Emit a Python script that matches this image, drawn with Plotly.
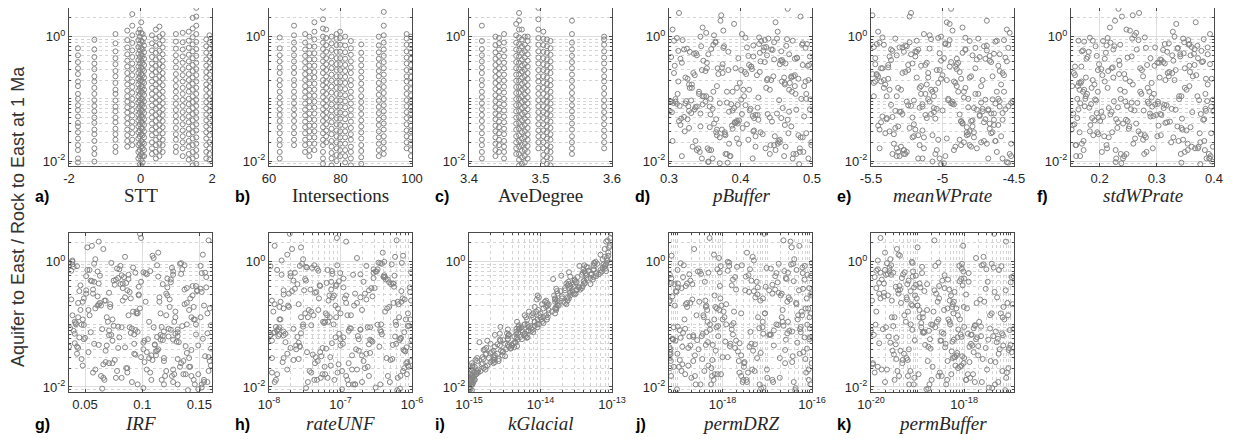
import plotly.graph_objects as go

# ---------------- shared output values (y of panels d-k) ----------------
ratio = [
    0.35, 0.021, 0.74, 0.056, 0.013, 1.3, 0.18, 0.042, 0.62, 0.095,
    0.027, 0.48, 0.011, 0.24, 0.083, 0.91, 0.033, 0.15, 0.067, 0.29,
    0.016, 0.55, 0.12, 0.038, 0.81, 0.0092, 0.21, 0.47, 0.071, 0.019,
    1.8, 0.064, 0.33, 0.026, 0.13, 0.68, 0.045, 0.099, 0.23, 0.014,
    0.41, 0.087, 0.017, 0.96, 0.052, 0.28, 0.031, 0.16, 0.59, 0.011,
    0.076, 0.37, 0.023, 0.11, 0.85, 0.048, 0.014, 0.26, 0.043, 1.1,
    0.19, 0.029, 0.64, 0.058, 0.012, 0.39, 0.091, 0.22, 0.035, 0.72,
    0.015, 0.14, 0.44, 0.069, 2.4, 0.025, 0.31, 0.105, 0.018, 0.53,
    0.062, 0.88, 0.037, 0.2, 0.0098, 0.46, 0.079, 0.13, 0.027, 0.66,
    0.34, 0.049, 0.017, 0.25, 0.78, 0.094, 0.04, 0.17, 1.4, 0.022,
    0.57, 0.013, 0.11, 0.3, 0.061, 0.93, 0.032, 0.2, 0.084, 0.015,
    0.27, 0.7, 0.046, 0.12, 0.019, 0.42, 0.073, 0.0089, 0.36, 0.055,
    1.05, 0.028, 0.15, 0.5, 0.039, 0.09, 0.24, 0.012, 0.61, 0.082,
    0.021, 0.32, 0.065, 0.86, 0.14, 0.044, 0.016, 0.4, 2.1, 0.1,
    0.051, 0.23, 0.026, 0.76, 0.068, 0.011, 0.18, 0.52, 0.034, 0.13,
    0.45, 0.077, 0.02, 0.29, 0.97, 0.058, 0.16, 0.024, 0.67, 0.086,
    0.013, 0.38, 0.11, 0.047, 0.22, 1.6, 0.03, 0.098, 0.54, 0.018,
    0.26, 0.072, 0.63, 0.036, 0.012, 0.19, 0.43, 0.057, 0.83, 0.024,
    0.14, 0.0094, 0.35, 0.081, 0.049, 0.71, 0.17, 0.029, 1.2, 0.063,
    0.31, 0.016, 0.092, 0.58, 0.041, 0.21, 0.015, 0.49, 0.075, 2.8,
    0.44, 0.019, 0.13, 0.86, 0.036, 0.25, 0.011, 0.068, 0.57, 0.15,
    0.028, 0.7, 0.09, 0.33, 0.014, 1.15, 0.05, 0.21, 0.042, 0.39,
    0.12, 0.024, 0.48, 0.075, 0.95, 0.017, 0.18, 0.6, 0.032, 0.1,
    0.27, 0.059, 1.7, 0.013, 0.16, 0.38, 0.046, 0.8, 0.022, 0.11,
    0.065, 0.52, 0.03, 0.2, 0.0096, 0.34, 0.085, 0.67, 0.016, 0.24,
    0.93, 0.04, 0.14, 0.021, 0.45, 0.071, 0.29, 0.012, 0.055, 1.25,
    0.17, 0.35, 0.026, 0.62, 0.097, 0.015, 0.23, 0.044, 0.76, 0.062,
    0.011, 0.41, 0.08, 0.19, 0.034, 0.88, 0.13, 0.02, 0.31, 0.053,
    0.74, 0.025, 0.1, 0.5, 0.018, 0.26, 0.069, 2.2, 0.038, 0.15,
    0.057, 0.22, 0.013, 0.66, 0.047, 0.36, 0.09, 0.029, 1.0, 0.12,
]

pBuffer = [
    0.412, 0.337, 0.486, 0.358, 0.441, 0.305, 0.469, 0.392, 0.321, 0.454,
    0.378, 0.497, 0.346, 0.423, 0.311, 0.465, 0.389, 0.332, 0.478, 0.401,
    0.354, 0.427, 0.492, 0.316, 0.447, 0.371, 0.438, 0.303, 0.459, 0.384,
    0.372, 0.328, 0.415, 0.481, 0.362, 0.436, 0.398, 0.309, 0.474, 0.343,
    0.456, 0.381, 0.333, 0.407, 0.489, 0.351, 0.419, 0.367, 0.313, 0.495,
    0.327, 0.463, 0.395, 0.349, 0.429, 0.317, 0.483, 0.375, 0.444, 0.402,
    0.491, 0.366, 0.325, 0.451, 0.386, 0.434, 0.302, 0.471, 0.357, 0.418,
    0.339, 0.404, 0.476, 0.361, 0.314, 0.448, 0.393, 0.425, 0.499, 0.335,
    0.468, 0.319, 0.388, 0.443, 0.355, 0.479, 0.407, 0.342, 0.431, 0.376,
    0.308, 0.457, 0.421, 0.369, 0.487, 0.331, 0.396, 0.462, 0.347, 0.411,
    0.383, 0.474, 0.352, 0.416, 0.304, 0.439, 0.367, 0.495, 0.323, 0.449,
    0.427, 0.345, 0.466, 0.312, 0.398, 0.458, 0.337, 0.482, 0.375, 0.421,
    0.363, 0.492, 0.329, 0.437, 0.409, 0.351, 0.476, 0.318, 0.445, 0.387,
    0.453, 0.374, 0.413, 0.307, 0.468, 0.395, 0.341, 0.428, 0.484, 0.358,
    0.321, 0.446, 0.379, 0.493, 0.336, 0.417, 0.462, 0.355, 0.403, 0.472,
    0.397, 0.315, 0.455, 0.383, 0.426, 0.344, 0.489, 0.371, 0.433, 0.306,
    0.478, 0.353, 0.405, 0.326, 0.461, 0.391, 0.418, 0.498, 0.338, 0.442,
    0.334, 0.424, 0.359, 0.471, 0.385, 0.313, 0.447, 0.402, 0.365, 0.487,
    0.441, 0.382, 0.496, 0.347, 0.419, 0.464, 0.328, 0.378, 0.452, 0.301,
    0.368, 0.435, 0.324, 0.457, 0.392, 0.481, 0.356, 0.411, 0.339, 0.466,
    0.316, 0.452, 0.389, 0.473, 0.344, 0.408, 0.361, 0.497, 0.329, 0.436,
    0.467, 0.377, 0.303, 0.415, 0.488, 0.352, 0.441, 0.326, 0.394, 0.459,
    0.342, 0.484, 0.418, 0.357, 0.311, 0.463, 0.399, 0.432, 0.374, 0.492,
    0.406, 0.331, 0.449, 0.381, 0.476, 0.318, 0.425, 0.365, 0.455, 0.347,
    0.389, 0.468, 0.322, 0.437, 0.355, 0.494, 0.371, 0.409, 0.483, 0.336,
    0.451, 0.363, 0.412, 0.305, 0.479, 0.391, 0.346, 0.461, 0.424, 0.376,
    0.332, 0.487, 0.367, 0.443, 0.401, 0.359, 0.471, 0.314, 0.426, 0.384,
    0.473, 0.348, 0.396, 0.458, 0.328, 0.434, 0.381, 0.499, 0.353, 0.417,
    0.362, 0.421, 0.485, 0.339, 0.447, 0.307, 0.414, 0.373, 0.462, 0.395,
    0.438, 0.323, 0.379, 0.491, 0.366, 0.455, 0.309, 0.428, 0.344, 0.477,
]

meanWPrate = [
    -5.12, -4.63, -5.41, -4.88, -5.27, -4.55, -5.03, -4.71, -5.36, -4.96,
    -4.82, -5.19, -4.58, -5.46, -4.93, -5.08, -4.67, -5.31, -4.76, -5.02,
    -5.44, -4.86, -5.15, -4.61, -5.23, -4.99, -5.38, -4.74, -5.06, -4.52,
    -4.69, -5.33, -4.91, -5.17, -4.57, -5.48, -4.79, -5.1, -4.65, -5.25,
    -5.01, -4.73, -5.29, -4.84, -5.42, -4.6, -5.14, -4.9, -5.35, -4.68,
    -4.54, -5.21, -4.97, -5.39, -4.81, -5.05, -4.62, -5.28, -4.87, -5.13,
    -5.47, -4.78, -5.09, -4.66, -5.32, -4.94, -4.51, -5.18, -4.83, -5.26,
    -4.92, -5.37, -4.7, -5.04, -5.22, -4.59, -5.43, -4.85, -5.16, -4.64,
    -5.3, -4.95, -5.45, -4.72, -5.07, -4.56, -5.24, -4.89, -5.34, -4.77,
    -4.61, -5.11, -4.8, -5.49, -4.98, -5.2, -4.67, -5.4, -4.86, -5.03,
    -5.18, -4.53, -5.32, -4.9, -5.06, -4.75, -5.44, -4.97, -4.63, -5.27,
    -4.88, -5.25, -4.58, -5.12, -4.69, -5.36, -4.82, -5.01, -5.47, -4.74,
    -5.09, -4.66, -5.41, -4.79, -5.2, -4.93, -4.57, -5.3, -4.84, -5.14,
    -4.71, -5.38, -5.0, -4.62, -5.29, -4.87, -5.13, -4.55, -5.23, -4.96,
    -5.35, -4.8, -5.07, -5.46, -4.68, -5.17, -4.91, -4.6, -5.33, -4.85,
    -4.99, -5.22, -4.73, -5.04, -5.42, -4.64, -5.15, -4.78, -5.28, -4.52,
    -5.26, -4.89, -5.48, -4.7, -5.1, -4.95, -5.37, -4.65, -5.02, -4.81,
    -4.58, -5.16, -4.84, -5.31, -4.98, -5.43, -4.76, -5.08, -4.63, -5.21,
    -5.05, -4.54, -5.24, -4.92, -5.39, -4.69, -5.11, -4.83, -5.45, -4.72,
    -4.77, -5.32, -4.6, -5.19, -4.86, -5.01, -5.27, -4.67, -5.14, -4.94,
    -4.9, -5.34, -4.62, -5.18, -4.79, -5.46, -5.02, -4.56, -5.27, -4.84,
    -5.4, -4.71, -5.09, -4.95, -5.31, -4.53, -5.21, -4.87, -5.43, -4.66,
    -4.75, -5.13, -5.37, -4.6, -5.03, -4.91, -5.48, -4.69, -5.19, -4.82,
    -5.26, -4.58, -4.97, -5.35, -4.73, -5.11, -4.64, -5.44, -4.88, -5.06,
    -4.68, -5.22, -4.81, -5.41, -4.55, -5.15, -4.94, -5.3, -4.76, -5.0,
    -5.33, -4.86, -5.08, -4.63, -5.47, -4.78, -5.24, -4.52, -5.12, -4.93,
    -4.59, -5.38, -4.83, -5.17, -4.7, -5.04, -5.45, -4.8, -4.98, -5.29,
    -5.14, -4.67, -5.36, -4.92, -5.23, -4.57, -5.07, -4.85, -5.42, -4.74,
    -4.96, -5.2, -4.61, -5.32, -4.87, -5.1, -4.72, -5.49, -4.64, -5.16,
    -5.28, -4.81, -5.05, -4.54, -5.39, -4.9, -5.25, -4.65, -5.01, -4.77,
]

stdWPrate = [
    0.283, 0.172, 0.356, 0.219, 0.391, 0.247, 0.164, 0.318, 0.265, 0.374,
    0.198, 0.341, 0.229, 0.157, 0.302, 0.382, 0.251, 0.186, 0.333, 0.274,
    0.367, 0.211, 0.295, 0.153, 0.348, 0.238, 0.396, 0.179, 0.312, 0.259,
    0.227, 0.386, 0.168, 0.307, 0.244, 0.361, 0.191, 0.339, 0.276, 0.204,
    0.329, 0.256, 0.398, 0.183, 0.289, 0.215, 0.352, 0.162, 0.378, 0.241,
    0.174, 0.314, 0.262, 0.371, 0.206, 0.344, 0.282, 0.155, 0.323, 0.393,
    0.253, 0.196, 0.336, 0.288, 0.166, 0.379, 0.225, 0.305, 0.359, 0.212,
    0.384, 0.236, 0.177, 0.326, 0.269, 0.208, 0.349, 0.291, 0.159, 0.365,
    0.221, 0.355, 0.303, 0.188, 0.397, 0.249, 0.317, 0.171, 0.272, 0.337,
    0.296, 0.161, 0.373, 0.234, 0.321, 0.194, 0.264, 0.389, 0.218, 0.346,
    0.181, 0.278, 0.343, 0.203, 0.362, 0.257, 0.151, 0.331, 0.286, 0.228,
    0.358, 0.193, 0.246, 0.385, 0.169, 0.308, 0.232, 0.376, 0.199, 0.299,
    0.261, 0.395, 0.214, 0.327, 0.156, 0.284, 0.369, 0.243, 0.311, 0.185,
    0.338, 0.223, 0.277, 0.163, 0.352, 0.201, 0.293, 0.381, 0.239, 0.175,
    0.206, 0.363, 0.189, 0.314, 0.255, 0.392, 0.167, 0.341, 0.231, 0.287,
    0.372, 0.248, 0.325, 0.197, 0.279, 0.154, 0.357, 0.216, 0.389, 0.266,
    0.237, 0.301, 0.176, 0.383, 0.224, 0.334, 0.268, 0.192, 0.347, 0.158,
    0.319, 0.182, 0.366, 0.252, 0.394, 0.209, 0.306, 0.377, 0.173, 0.281,
    0.165, 0.343, 0.235, 0.297, 0.187, 0.371, 0.258, 0.222, 0.328, 0.399,
    0.271, 0.213, 0.388, 0.169, 0.315, 0.245, 0.354, 0.195, 0.292, 0.233,
    0.209, 0.354, 0.271, 0.188, 0.336, 0.243, 0.392, 0.163, 0.318, 0.284,
    0.375, 0.226, 0.302, 0.157, 0.349, 0.264, 0.198, 0.386, 0.232, 0.311,
    0.178, 0.329, 0.256, 0.395, 0.214, 0.361, 0.291, 0.171, 0.345, 0.237,
    0.322, 0.195, 0.368, 0.247, 0.152, 0.304, 0.381, 0.219, 0.276, 0.339,
    0.261, 0.389, 0.183, 0.315, 0.228, 0.357, 0.166, 0.297, 0.372, 0.205,
    0.346, 0.241, 0.173, 0.383, 0.289, 0.216, 0.333, 0.159, 0.308, 0.253,
    0.191, 0.366, 0.279, 0.224, 0.398, 0.172, 0.321, 0.249, 0.357, 0.203,
    0.387, 0.234, 0.313, 0.168, 0.343, 0.268, 0.197, 0.376, 0.221, 0.294,
    0.236, 0.301, 0.161, 0.359, 0.212, 0.327, 0.385, 0.258, 0.184, 0.349,
    0.306, 0.176, 0.342, 0.281, 0.229, 0.393, 0.245, 0.165, 0.331, 0.273,
]

IRF = [
    0.087, 0.141, 0.052, 0.118, 0.067, 0.153, 0.098, 0.044, 0.127, 0.075,
    0.109, 0.058, 0.146, 0.083, 0.131, 0.039, 0.094, 0.157, 0.071, 0.122,
    0.136, 0.079, 0.048, 0.113, 0.092, 0.149, 0.062, 0.125, 0.041, 0.104,
    0.056, 0.123, 0.089, 0.159, 0.069, 0.101, 0.138, 0.047, 0.115, 0.082,
    0.144, 0.037, 0.107, 0.073, 0.132, 0.061, 0.155, 0.095, 0.051, 0.119,
    0.096, 0.151, 0.066, 0.128, 0.043, 0.111, 0.077, 0.142, 0.085, 0.059,
    0.072, 0.106, 0.134, 0.049, 0.091, 0.156, 0.117, 0.063, 0.139, 0.038,
    0.126, 0.054, 0.081, 0.147, 0.099, 0.068, 0.121, 0.042, 0.158, 0.088,
    0.045, 0.137, 0.112, 0.064, 0.152, 0.086, 0.04, 0.129, 0.076, 0.103,
    0.148, 0.093, 0.057, 0.124, 0.078, 0.135, 0.101, 0.053, 0.114, 0.16,
    0.084, 0.145, 0.07, 0.097, 0.05, 0.133, 0.108, 0.154, 0.065, 0.12,
    0.115, 0.061, 0.149, 0.074, 0.127, 0.046, 0.09, 0.14, 0.057, 0.102,
    0.039, 0.131, 0.095, 0.055, 0.143, 0.11, 0.068, 0.157, 0.082, 0.125,
    0.133, 0.071, 0.118, 0.151, 0.088, 0.043, 0.138, 0.097, 0.062, 0.147,
    0.101, 0.048, 0.136, 0.08, 0.116, 0.152, 0.059, 0.125, 0.093, 0.044,
    0.062, 0.119, 0.087, 0.144, 0.036, 0.105, 0.129, 0.074, 0.155, 0.091,
    0.154, 0.083, 0.041, 0.111, 0.139, 0.066, 0.099, 0.049, 0.122, 0.078,
    0.09, 0.157, 0.104, 0.053, 0.127, 0.145, 0.076, 0.116, 0.04, 0.134,
    0.121, 0.065, 0.148, 0.094, 0.058, 0.107, 0.046, 0.141, 0.085, 0.113,
    0.051, 0.128, 0.079, 0.114, 0.16, 0.072, 0.143, 0.056, 0.131, 0.098,
    0.118, 0.059, 0.143, 0.081, 0.104, 0.038, 0.131, 0.073, 0.156, 0.096,
    0.047, 0.127, 0.089, 0.152, 0.066, 0.11, 0.041, 0.137, 0.079, 0.122,
    0.146, 0.071, 0.099, 0.055, 0.134, 0.087, 0.159, 0.063, 0.112, 0.042,
    0.085, 0.153, 0.052, 0.117, 0.092, 0.139, 0.069, 0.126, 0.048, 0.106,
    0.131, 0.077, 0.158, 0.061, 0.101, 0.045, 0.123, 0.094, 0.149, 0.067,
    0.058, 0.114, 0.039, 0.142, 0.083, 0.129, 0.097, 0.154, 0.074, 0.109,
    0.141, 0.051, 0.119, 0.088, 0.16, 0.064, 0.103, 0.036, 0.135, 0.08,
    0.096, 0.147, 0.071, 0.124, 0.043, 0.113, 0.151, 0.086, 0.057, 0.13,
    0.054, 0.102, 0.139, 0.075, 0.121, 0.049, 0.093, 0.158, 0.068, 0.116,
    0.127, 0.044, 0.108, 0.152, 0.062, 0.137, 0.082, 0.119, 0.039, 0.145,
]

rateUNF = [
    3.1e-8, 2.4e-7, 1.3e-8, 6.7e-7, 8.2e-8, 1.8e-8, 4.5e-7, 5.6e-8, 1.5e-7, 9.1e-7,
    2.2e-8, 7.4e-8, 3.6e-7, 1.1e-8, 1.9e-7, 5.2e-7, 4.1e-8, 8.8e-7, 1.6e-8, 1.2e-7,
    6.1e-8, 2.9e-7, 1.4e-8, 7.9e-7, 3.4e-8, 1.05e-7, 2.6e-8, 4.8e-7, 9.6e-8, 1.7e-7,
    1.2e-8, 5.8e-7, 4.6e-8, 2.1e-7, 7.1e-8, 9.7e-7, 2.7e-8, 3.3e-7, 1.45e-8, 6.3e-7,
    8.6e-8, 1.35e-7, 3.9e-8, 7.2e-7, 1.7e-8, 2.8e-7, 5.4e-8, 4.2e-7, 2.0e-8, 1.6e-7,
    3.7e-7, 2.3e-8, 9.4e-8, 5.9e-7, 1.05e-8, 2.5e-7, 6.6e-8, 1.15e-7, 8.4e-7, 3.0e-8,
    1.9e-8, 4.4e-7, 7.7e-8, 1.8e-7, 3.5e-8, 9.3e-7, 1.25e-8, 5.5e-7, 2.6e-7, 4.9e-8,
    6.9e-7, 1.4e-7, 2.5e-8, 3.8e-7, 8.9e-8, 1.55e-8, 2.2e-7, 5.9e-8, 7.5e-7, 3.2e-8,
    1.1e-7, 4.3e-8, 8.1e-7, 1.85e-8, 3.1e-7, 6.4e-8, 1.3e-7, 2.8e-8, 5.0e-7, 9.9e-8,
    2.1e-8, 6.0e-7, 1.1e-8, 2.3e-7, 4.7e-8, 8.7e-7, 1.65e-7, 3.6e-8, 3.9e-7, 7.3e-8,
    4.0e-7, 1.25e-7, 5.7e-8, 1.6e-8, 7.0e-7, 2.9e-8, 2.0e-7, 8.5e-8, 1.35e-8, 4.6e-7,
    7.8e-8, 3.2e-7, 2.4e-8, 9.5e-7, 1.45e-7, 5.1e-8, 1.15e-8, 6.2e-7, 3.8e-8, 2.7e-7,
    1.5e-8, 5.3e-7, 1.0e-7, 3.3e-8, 7.6e-7, 2.4e-7, 6.8e-8, 1.2e-8, 4.1e-7, 1.9e-7,
    9.0e-7, 4.4e-8, 1.75e-7, 2.7e-8, 6.5e-8, 3.5e-7, 1.3e-8, 5.6e-7, 1.2e-7, 8.0e-8,
    2.6e-8, 7.1e-7, 4.8e-8, 2.9e-7, 1.05e-8, 1.5e-7, 9.2e-8, 4.3e-7, 1.8e-8, 6.6e-7,
    5.4e-7, 1.6e-8, 2.2e-7, 7.0e-8, 3.4e-7, 1.0e-7, 3.9e-8, 8.3e-7, 2.3e-8, 1.4e-7,
    1.25e-8, 3.0e-7, 6.1e-8, 9.8e-7, 1.7e-7, 2.1e-8, 4.5e-8, 6.0e-7, 1.1e-7, 3.7e-8,
    7.4e-7, 2.8e-8, 1.9e-7, 5.2e-8, 4.9e-7, 1.4e-8, 8.8e-8, 2.6e-7, 3.3e-8, 1.3e-7,
    4.2e-8, 6.8e-7, 1.6e-8, 3.6e-7, 1.08e-7, 7.6e-8, 2.0e-7, 1.1e-8, 5.8e-7, 2.5e-8,
    1.6e-7, 8.5e-7, 3.0e-8, 4.0e-7, 6.3e-8, 1.2e-8, 2.5e-7, 9.5e-8, 7.8e-7, 1.95e-8,
    5.1e-7, 1.8e-8, 8.7e-8, 2.3e-7, 3.4e-8, 7.9e-7, 1.3e-7, 1.05e-8, 4.2e-7, 6.2e-8,
    2.6e-8, 3.1e-7, 1.4e-8, 9.4e-7, 5.3e-8, 1.7e-7, 7.6e-8, 6.5e-7, 2.0e-8, 1.1e-7,
    8.2e-7, 4.4e-8, 2.1e-7, 1.2e-8, 3.6e-7, 9.1e-8, 1.6e-8, 5.7e-7, 1.45e-7, 3.0e-8,
    1.9e-7, 6.9e-7, 2.8e-8, 4.7e-8, 1.15e-8, 2.7e-7, 1.0e-7, 4.0e-8, 8.8e-7, 6.7e-8,
    1.35e-8, 4.6e-7, 7.2e-8, 1.55e-7, 3.3e-8, 7.1e-7, 2.2e-8, 2.9e-7, 5.6e-8, 9.7e-7,
    3.8e-7, 2.4e-8, 1.25e-7, 6.0e-8, 5.5e-7, 1.7e-8, 8.1e-8, 2.0e-7, 1.1e-8, 7.5e-7,
    4.9e-8, 2.5e-7, 9.6e-7, 1.5e-8, 3.9e-8, 1.2e-7, 6.3e-7, 2.7e-8, 3.3e-7, 8.5e-8,
    1.6e-7, 5.2e-8, 1.3e-8, 4.8e-7, 2.3e-7, 9.0e-8, 3.5e-8, 7.8e-7, 1.9e-8, 2.8e-7,
    6.6e-8, 8.6e-7, 3.7e-7, 2.2e-8, 1.05e-7, 5.0e-8, 1.4e-8, 6.1e-7, 1.8e-7, 3.2e-8,
    9.9e-7, 1.2e-7, 4.3e-8, 2.0e-8, 5.4e-7, 7.4e-8, 2.6e-7, 1.6e-8, 4.1e-7, 1.45e-8,
]

kGlacial = [
    2.8e-14, 1.2e-15, 6.9e-14, 3.0e-15, 1.07e-15, 6.9e-14, 1.66e-14, 3.9e-15, 3.8e-14, 7.2e-15,
    2.2e-15, 3.1e-14, 1.12e-15, 2.4e-14, 3.5e-15, 7.6e-14, 1.7e-15, 1.0e-14, 5.9e-15, 9.1e-15,
    1.26e-15, 5.0e-14, 6.5e-15, 2.8e-15, 4.6e-14, 1.05e-15, 2.3e-14, 3.2e-14, 2.7e-15, 1.7e-15,
    9.3e-14, 4.3e-15, 2.8e-14, 1.3e-15, 1.1e-14, 2.5e-14, 4.7e-15, 6.0e-15, 1.15e-14, 1.17e-15,
    3.9e-14, 7.4e-15, 1.2e-15, 5.6e-14, 1.4e-15, 2.0e-14, 3.2e-15, 8.7e-15, 6.0e-14, 1.02e-15,
    4.6e-15, 1.66e-14, 1.5e-15, 1.05e-14, 7.9e-14, 2.5e-15, 1.12e-15, 2.0e-14, 4.3e-15, 7.4e-14,
    1.2e-14, 1.3e-15, 5.2e-14, 5.5e-15, 1.1e-15, 3.4e-14, 2.75e-15, 2.2e-14, 2.0e-15, 4.7e-14,
    1.07e-15, 1.2e-14, 5.0e-14, 3.6e-15, 9.5e-14, 2.0e-15, 1.74e-14, 1.1e-14, 1.1e-15, 1.5e-14,
    4.7e-15, 4.1e-14, 3.0e-15, 1.26e-14, 1.02e-15, 4.2e-14, 6.7e-15, 6.3e-15, 1.23e-15, 6.0e-14,
    1.7e-14, 3.2e-15, 1.35e-15, 1.6e-14, 8.1e-14, 8.3e-15, 1.66e-15, 1.3e-14, 8.9e-14, 1.12e-15,
    3.3e-14, 1.05e-15, 4.7e-15, 3.0e-14, 6.4e-15, 8.3e-14, 2.3e-15, 1.8e-14, 5.0e-15, 1.17e-15,
    9.5e-15, 7.2e-14, 2.7e-15, 1.23e-14, 1.07e-15, 2.4e-14, 4.9e-15, 1.1e-15, 3.6e-14, 2.75e-15,
    8.7e-14, 2.6e-15, 1.6e-14, 3.0e-14, 1.6e-15, 6.8e-15, 1.2e-14, 1.15e-15, 4.3e-14, 7.8e-15,
    1.7e-15, 2.6e-14, 3.5e-15, 3.5e-14, 7.6e-15, 3.6e-15, 1.05e-15, 2.9e-14, 8.3e-14, 9.5e-15,
    4.5e-15, 2.1e-14, 2.6e-15, 5.6e-14, 2.3e-15, 1.07e-15, 1.1e-14, 5.4e-14, 2.5e-15, 1.0e-14,
    2.3e-14, 7.3e-15, 1.12e-15, 2.6e-14, 9.5e-14, 3.5e-15, 1.45e-14, 2.2e-15, 3.9e-14, 5.1e-15,
    1.2e-15, 3.8e-14, 8.3e-15, 3.9e-15, 1.23e-14, 7.9e-14, 1.55e-15, 6.6e-15, 4.4e-14, 1.45e-15,
    2.5e-14, 3.4e-15, 6.5e-14, 2.1e-15, 1.02e-15, 1.66e-14, 2.75e-14, 4.8e-15, 4.4e-14, 1.1e-15,
    6.0e-15, 1.02e-15, 2.2e-14, 5.5e-15, 2.0e-15, 8.3e-14, 9.3e-15, 2.3e-15, 7.9e-14, 5.2e-15,
    2.9e-14, 1.26e-15, 4.9e-15, 2.6e-14, 3.8e-15, 1.3e-14, 1.1e-15, 4.0e-14, 7.9e-15, 1.0e-13,
    2.5e-14, 1.35e-15, 1.26e-14, 5.6e-14, 2.95e-15, 8.9e-15, 1.07e-15, 3.6e-15, 5.5e-14, 7.9e-15,
    1.6e-15, 4.1e-14, 9.1e-15, 2.6e-14, 1.12e-15, 8.5e-14, 4.2e-15, 1.05e-14, 1.74e-15, 3.5e-14,
    1.03e-14, 1.55e-15, 2.45e-14, 5.6e-15, 5.7e-14, 1.3e-15, 1.6e-14, 1.95e-14, 2.95e-15, 6.0e-15,
    2.4e-14, 3.5e-15, 9.1e-14, 1.05e-15, 6.9e-15, 2.2e-14, 4.0e-15, 7.4e-14, 1.8e-15, 8.3e-15,
    6.2e-15, 3.0e-14, 2.2e-15, 1.74e-14, 1.02e-15, 1.9e-14, 4.6e-15, 6.9e-14, 1.12e-15, 1.7e-14,
    6.2e-14, 3.3e-15, 9.6e-15, 1.12e-15, 4.1e-14, 6.0e-15, 1.55e-14, 1.07e-15, 1.8e-15, 8.9e-14,
    1.66e-14, 3.2e-14, 2.1e-15, 5.1e-14, 5.0e-15, 1.1e-15, 1.6e-14, 2.3e-15, 4.0e-14, 6.6e-15,
    1.1e-15, 2.6e-14, 6.8e-15, 8.3e-15, 1.74e-15, 8.1e-14, 7.9e-15, 1.6e-15, 3.1e-14, 4.4e-15,
    5.5e-14, 2.3e-15, 8.9e-15, 4.1e-14, 1.3e-15, 1.6e-14, 4.6e-15, 8.7e-14, 2.2e-15, 1.3e-14,
    2.7e-15, 1.74e-14, 1.2e-15, 4.3e-14, 3.5e-15, 3.2e-14, 5.4e-15, 1.9e-15, 5.9e-14, 9.1e-15,
]

permDRZ = [
    3.2e-18, 8.1e-20, 4.5e-17, 2.7e-19, 1.3e-17, 6.4e-19, 7.2e-17, 1.9e-18, 6.6e-20, 2.3e-17,
    1.1e-19, 5.8e-18, 9.3e-17, 4.1e-19, 1.6e-18, 3.4e-17, 6.7e-20, 8.9e-18, 2.2e-19, 9.7e-17,
    7.7e-19, 2.6e-17, 1.4e-19, 4.8e-18, 6.1e-17, 9.5e-20, 1.2e-18, 1.7e-17, 3.6e-19, 8.4e-17,
    5.2e-17, 1.8e-19, 3.9e-18, 6.9e-20, 2.1e-17, 8.6e-19, 1.45e-18, 7.8e-17, 3.0e-19, 1.0e-17,
    1.5e-19, 6.6e-18, 2.4e-18, 9.9e-17, 4.7e-19, 7.5e-20, 3.7e-17, 1.05e-18, 1.5e-17, 2.5e-19,
    4.2e-18, 6.3e-17, 1.25e-19, 2.9e-17, 9.1e-19, 5.3e-18, 2.0e-19, 8.0e-18, 6.5e-20, 4.0e-17,
    6.9e-19, 1.9e-17, 3.3e-19, 8.7e-17, 2.8e-18, 1.0e-19, 5.6e-17, 1.6e-19, 7.1e-18, 1.3e-18,
    2.4e-19, 4.9e-17, 8.3e-20, 1.15e-17, 5.1e-19, 3.1e-18, 9.6e-17, 1.75e-18, 3.9e-19, 2.7e-17,
    6.8e-17, 1.35e-19, 2.2e-18, 4.3e-19, 8.2e-18, 7.2e-20, 3.1e-17, 1.1e-18, 5.9e-19, 1.6e-17,
    9.0e-20, 4.4e-18, 7.4e-17, 2.1e-19, 1.2e-17, 7.9e-19, 6.8e-20, 2.2e-17, 3.5e-18, 1.7e-19,
    1.9e-18, 8.5e-17, 4.6e-19, 6.0e-18, 1.15e-19, 3.8e-17, 2.6e-18, 9.4e-19, 5.4e-17, 7.0e-20,
    3.0e-17, 2.8e-19, 1.4e-17, 6.5e-19, 9.8e-18, 1.6e-18, 1.3e-19, 4.2e-17, 2.0e-18, 8.8e-20,
    5.0e-18, 3.5e-19, 9.4e-17, 1.9e-19, 2.5e-17, 7.3e-19, 6.6e-20, 1.35e-17, 3.8e-18, 5.2e-19,
    1.05e-19, 1.8e-17, 8.0e-19, 6.9e-17, 2.6e-19, 4.0e-18, 1.45e-19, 9.2e-18, 3.3e-17, 1.2e-18,
    4.7e-17, 6.4e-20, 2.3e-18, 7.6e-19, 1.1e-17, 3.2e-19, 8.2e-17, 1.7e-18, 9.7e-20, 6.2e-18,
    1.6e-19, 3.6e-17, 5.6e-19, 2.0e-17, 1.4e-18, 7.7e-20, 5.9e-17, 3.0e-18, 4.8e-19, 9.0e-17,
    2.9e-18, 1.2e-19, 7.9e-18, 6.0e-19, 4.4e-17, 2.3e-19, 1.0e-18, 1.75e-17, 7.1e-20, 5.2e-18,
    8.9e-19, 2.8e-17, 1.8e-19, 6.4e-17, 3.5e-18, 4.2e-19, 1.3e-17, 7.8e-20, 2.1e-18, 9.8e-17,
    3.7e-19, 7.3e-18, 5.1e-17, 1.1e-19, 1.5e-18, 2.4e-17, 8.4e-19, 6.5e-20, 4.7e-18, 2.2e-19,
    1.3e-17, 6.7e-19, 9.9e-20, 3.3e-18, 7.7e-17, 1.5e-19, 2.6e-18, 3.9e-17, 4.3e-19, 8.5e-18,
    2.1e-19, 4.6e-18, 8.8e-17, 1.4e-18, 6.8e-20, 3.2e-17, 5.5e-19, 1.2e-17, 1.3e-19, 2.6e-18,
    7.1e-17, 3.1e-19, 7.8e-18, 9.3e-20, 1.9e-17, 8.3e-19, 2.4e-18, 4.5e-17, 1.7e-19, 6.1e-18,
    1.0e-18, 2.5e-17, 4.0e-19, 5.6e-17, 1.15e-19, 3.7e-18, 7.4e-19, 9.5e-17, 2.4e-19, 1.6e-17,
    5.4e-18, 7.5e-20, 3.5e-17, 6.3e-19, 1.8e-18, 8.6e-17, 1.9e-19, 9.6e-18, 4.8e-19, 2.2e-17,
    3.4e-19, 6.8e-17, 1.3e-18, 8.5e-20, 4.3e-17, 5.0e-18, 1.45e-19, 2.9e-17, 9.2e-19, 7.0e-18,
    1.8e-17, 2.9e-19, 6.0e-17, 3.0e-18, 1.0e-19, 8.1e-18, 6.6e-19, 3.9e-17, 2.0e-18, 7.2e-20,
    4.5e-19, 1.1e-17, 2.2e-19, 7.9e-17, 1.6e-18, 5.8e-19, 2.8e-17, 1.25e-19, 4.1e-18, 9.0e-17,
    6.7e-18, 8.7e-19, 1.4e-17, 1.6e-19, 5.3e-17, 2.7e-18, 3.8e-19, 6.6e-20, 2.1e-17, 1.15e-18,
    9.8e-20, 3.6e-17, 5.2e-19, 4.4e-18, 1.2e-19, 7.6e-17, 1.7e-18, 2.3e-17, 7.0e-19, 8.8e-18,
    2.6e-17, 1.9e-19, 3.4e-18, 6.2e-17, 4.2e-19, 1.5e-17, 8.0e-20, 5.9e-18, 1.3e-18, 4.8e-17,
]

permBuffer = [
    2.3e-19, 1.4e-20, 5.6e-18, 8.7e-20, 1.1e-18, 3.9e-20, 4.4e-19, 9.2e-18, 2.1e-20, 1.7e-18,
    6.1e-20, 3.2e-18, 1.8e-19, 1.05e-20, 7.5e-19, 2.6e-18, 3.1e-20, 1.3e-19, 6.8e-18, 5.2e-19,
    1.2e-18, 4.6e-20, 8.1e-19, 2.9e-20, 4.3e-18, 1.55e-19, 7.3e-20, 1.0e-17, 3.6e-19, 1.7e-20,
    9.5e-19, 2.4e-20, 6.2e-19, 3.7e-18, 1.1e-19, 5.3e-20, 2.0e-18, 1.25e-20, 2.7e-19, 8.0e-18,
    4.1e-20, 1.6e-18, 3.0e-19, 7.8e-20, 5.0e-18, 1.9e-20, 9.1e-19, 2.2e-19, 1.15e-17, 6.6e-20,
    1.4e-19, 2.9e-18, 1.1e-20, 4.9e-19, 6.3e-18, 3.4e-20, 1.35e-18, 9.6e-20, 3.9e-19, 2.6e-20,
    7.0e-18, 5.7e-19, 2.3e-20, 1.85e-19, 2.4e-18, 8.4e-20, 1.0e-18, 4.4e-20, 7.1e-19, 1.3e-20,
    3.3e-19, 8.8e-18, 6.0e-20, 1.45e-18, 1.6e-20, 4.7e-18, 2.5e-19, 1.2e-19, 3.7e-20, 8.6e-19,
    1.9e-18, 2.7e-20, 5.4e-19, 9.9e-20, 3.4e-18, 1.5e-20, 1.75e-19, 6.7e-18, 4.8e-20, 1.25e-18,
    7.1e-20, 4.0e-19, 1.2e-20, 2.2e-18, 8.9e-19, 3.0e-20, 5.8e-18, 1.6e-19, 2.0e-20, 6.5e-19,
    1.05e-17, 2.0e-19, 5.6e-20, 1.1e-18, 3.5e-20, 3.9e-18, 6.9e-19, 1.0e-19, 1.8e-20, 2.8e-19,
    5.1e-18, 8.0e-20, 1.5e-18, 4.6e-19, 2.2e-20, 9.3e-19, 1.35e-19, 7.6e-18, 4.2e-20, 3.2e-19,
    1.4e-20, 2.5e-18, 5.9e-19, 6.4e-20, 9.0e-18, 1.2e-19, 2.8e-20, 1.7e-18, 3.8e-19, 7.7e-20,
    8.2e-19, 1.9e-20, 4.2e-18, 2.4e-19, 5.2e-20, 1.3e-18, 1.05e-19, 3.4e-20, 7.9e-18, 5.0e-19,
    2.6e-20, 6.0e-19, 1.65e-19, 3.0e-18, 1.15e-20, 8.3e-20, 1.15e-18, 4.5e-19, 5.5e-18, 3.2e-20,
    1.1e-19, 4.8e-18, 7.4e-19, 2.3e-20, 2.8e-19, 1.8e-18, 6.2e-20, 9.7e-19, 1.6e-20, 3.6e-18,
    4.3e-19, 1.3e-20, 2.1e-18, 1.45e-19, 8.5e-18, 3.6e-20, 6.1e-19, 2.1e-19, 1.0e-18, 7.0e-20,
    2.9e-19, 6.5e-18, 4.9e-20, 1.6e-18, 2.0e-20, 5.5e-19, 9.2e-20, 3.3e-18, 1.25e-19, 1.1e-20,
    7.3e-19, 1.7e-19, 3.8e-20, 9.5e-18, 1.4e-18, 2.5e-20, 3.7e-19, 5.8e-20, 2.6e-18, 8.8e-19,
    1.5e-20, 5.3e-19, 2.3e-18, 7.9e-20, 1.9e-19, 1.1e-17, 4.0e-20, 8.0e-19, 1.3e-19, 4.4e-18,
    1.6e-19, 3.1e-18, 2.8e-20, 7.9e-19, 1.05e-17, 5.9e-20, 4.1e-19, 1.4e-18, 1.2e-20, 6.1e-18,
    3.5e-20, 9.6e-19, 2.4e-19, 4.5e-18, 8.5e-20, 1.8e-18, 1.5e-20, 5.7e-19, 2.9e-18, 1.15e-19,
    7.3e-18, 4.7e-20, 1.25e-18, 3.3e-19, 2.2e-20, 8.3e-18, 6.8e-19, 9.2e-20, 2.0e-18, 1.95e-19,
    5.8e-20, 5.3e-18, 1.0e-19, 1.1e-18, 1.3e-20, 3.8e-19, 6.9e-18, 2.5e-20, 8.7e-19, 2.6e-19,
    2.3e-18, 1.7e-20, 6.4e-19, 7.7e-20, 4.0e-18, 1.4e-19, 1.15e-17, 3.0e-20, 1.55e-18, 4.9e-19,
    9.0e-19, 6.5e-20, 3.6e-18, 2.1e-19, 1.9e-20, 1.2e-18, 8.8e-20, 5.4e-18, 3.1e-19, 4.2e-20,
    1.1e-19, 7.8e-18, 4.4e-19, 2.7e-20, 1.7e-18, 6.2e-20, 2.7e-18, 1.7e-19, 1.4e-20, 7.2e-19,
    4.6e-18, 2.9e-19, 1.0e-20, 9.8e-19, 5.1e-20, 2.4e-18, 1.3e-19, 8.9e-18, 3.9e-20, 5.6e-19,
    2.0e-20, 1.3e-18, 7.1e-20, 3.4e-19, 6.6e-18, 1.6e-20, 8.4e-19, 2.3e-19, 4.3e-20, 3.9e-18,
    6.0e-19, 1.85e-18, 3.2e-20, 1.25e-19, 9.9e-18, 4.8e-19, 2.1e-20, 1.0e-18, 7.5e-20, 2.8e-19,
]

# ---------------- discrete-valued inputs (panels a-c): levels and y per level ----------------
STT_levels = [-1.75, -1.29, -0.70, -0.37, -0.23, -0.06, -0.02, 0.02, 0.06, 0.10,
              0.32, 0.43, 0.53, 0.62, 0.99, 1.18, 1.35, 1.46, 1.56, 1.84, 1.93]
STT_y = [
    [0.0095, 0.011, 0.015, 0.018, 0.023, 0.029, 0.036, 0.041, 0.052, 0.066, 0.079, 0.1, 0.12, 0.16, 0.19, 0.25, 0.31, 0.39, 0.5, 0.65],
    [0.0098, 0.013, 0.016, 0.021, 0.027, 0.032, 0.041, 0.05, 0.063, 0.077, 0.095, 0.12, 0.15, 0.19, 0.23, 0.3, 0.37, 0.47, 0.62, 0.89],
    [0.014, 0.017, 0.022, 0.027, 0.033, 0.042, 0.05, 0.063, 0.075, 0.094, 0.12, 0.14, 0.18, 0.23, 0.28, 0.36, 0.45, 0.58, 0.78, 1.1],
    [0.017, 0.021, 0.026, 0.032, 0.04, 0.049, 0.06, 0.073, 0.09, 0.11, 0.135, 0.17, 0.21, 0.26, 0.33, 0.41, 0.52, 0.67, 0.88, 1.25],
    [0.018, 0.022, 0.028, 0.035, 0.043, 0.054, 0.066, 0.081, 0.1, 0.125, 0.155, 0.19, 0.24, 0.3, 0.37, 0.47, 0.6, 0.79, 1.05, 1.5, 2.3],
    [0.011, 0.014, 0.018, 0.023, 0.029, 0.036, 0.045, 0.056, 0.07, 0.087, 0.11, 0.135, 0.17, 0.21, 0.26, 0.33, 0.42, 0.53, 0.68, 0.88, 1.15],
    [0.0088, 0.012, 0.015, 0.019, 0.025, 0.031, 0.039, 0.049, 0.061, 0.076, 0.094, 0.12, 0.15, 0.19, 0.23, 0.29, 0.37, 0.47, 0.6, 0.77, 1.0, 1.3],
    [0.0085, 0.0105, 0.013, 0.017, 0.021, 0.027, 0.034, 0.043, 0.054, 0.067, 0.083, 0.1, 0.13, 0.16, 0.2, 0.25, 0.32, 0.41, 0.52, 0.66, 0.86, 1.15, 1.7],
    [0.0095, 0.012, 0.016, 0.02, 0.026, 0.033, 0.041, 0.051, 0.064, 0.08, 0.099, 0.125, 0.155, 0.19, 0.24, 0.3, 0.38, 0.49, 0.63, 0.82, 1.1],
    [0.012, 0.015, 0.019, 0.024, 0.03, 0.038, 0.047, 0.059, 0.073, 0.091, 0.115, 0.14, 0.18, 0.22, 0.28, 0.35, 0.44, 0.56, 0.72, 0.95],
    [0.013, 0.016, 0.02, 0.026, 0.032, 0.04, 0.05, 0.062, 0.078, 0.097, 0.12, 0.15, 0.19, 0.24, 0.3, 0.37, 0.47, 0.6, 0.78, 1.05],
    [0.011, 0.014, 0.018, 0.022, 0.028, 0.035, 0.044, 0.055, 0.069, 0.086, 0.107, 0.135, 0.17, 0.21, 0.27, 0.34, 0.43, 0.55, 0.71, 0.93, 1.3],
    [0.012, 0.015, 0.019, 0.024, 0.031, 0.038, 0.048, 0.06, 0.075, 0.094, 0.118, 0.148, 0.185, 0.23, 0.29, 0.36, 0.46, 0.59, 0.76, 1.0, 1.45],
    [0.014, 0.018, 0.022, 0.028, 0.035, 0.044, 0.055, 0.068, 0.085, 0.105, 0.13, 0.165, 0.21, 0.26, 0.33, 0.41, 0.52, 0.67, 0.87, 1.1],
    [0.014, 0.017, 0.022, 0.027, 0.034, 0.043, 0.053, 0.066, 0.083, 0.104, 0.13, 0.16, 0.2, 0.25, 0.32, 0.4, 0.5, 0.64, 0.83, 1.1],
    [0.012, 0.016, 0.02, 0.025, 0.031, 0.039, 0.049, 0.061, 0.077, 0.096, 0.12, 0.15, 0.19, 0.24, 0.3, 0.38, 0.48, 0.62, 0.81, 1.15],
    [0.0105, 0.013, 0.017, 0.021, 0.027, 0.033, 0.042, 0.052, 0.065, 0.082, 0.1, 0.13, 0.16, 0.2, 0.25, 0.32, 0.4, 0.51, 0.66, 0.86, 1.2],
    [0.0085, 0.011, 0.014, 0.018, 0.023, 0.029, 0.036, 0.045, 0.057, 0.071, 0.089, 0.11, 0.14, 0.175, 0.22, 0.28, 0.35, 0.45, 0.58, 0.75, 0.98, 1.35, 2.0],
    [0.009, 0.012, 0.015, 0.019, 0.024, 0.031, 0.039, 0.049, 0.061, 0.077, 0.096, 0.12, 0.15, 0.19, 0.24, 0.3, 0.38, 0.49, 0.63, 0.82, 1.1, 1.5, 2.1, 2.9],
    [0.011, 0.014, 0.018, 0.023, 0.029, 0.036, 0.045, 0.056, 0.07, 0.088, 0.11, 0.14, 0.17, 0.22, 0.27, 0.34, 0.43, 0.55, 0.7, 0.9],
    [0.0105, 0.013, 0.016, 0.02, 0.026, 0.032, 0.04, 0.05, 0.063, 0.079, 0.099, 0.124, 0.155, 0.195, 0.245, 0.31, 0.39, 0.49, 0.63, 0.8, 1.05],
]

Inter_levels = [63, 67, 70.1, 71.3, 72.7, 75.1, 76, 77.5, 78.9, 79.9, 81.3, 82.9, 85.8, 90.7, 92.1, 98.5, 99.7]
Inter_y = [
    [0.011, 0.014, 0.018, 0.022, 0.028, 0.035, 0.044, 0.055, 0.068, 0.085, 0.105, 0.13, 0.165, 0.2, 0.26, 0.32, 0.4, 0.5, 0.65, 0.97],
    [0.018, 0.022, 0.028, 0.035, 0.044, 0.055, 0.068, 0.085, 0.106, 0.13, 0.165, 0.2, 0.26, 0.32, 0.4, 0.5, 0.63, 0.8, 1.05, 1.5],
    [0.014, 0.018, 0.022, 0.028, 0.035, 0.043, 0.054, 0.067, 0.084, 0.105, 0.13, 0.16, 0.2, 0.25, 0.31, 0.39, 0.49, 0.62, 0.8, 1.1],
    [0.012, 0.015, 0.019, 0.024, 0.03, 0.037, 0.047, 0.058, 0.073, 0.091, 0.113, 0.14, 0.176, 0.22, 0.275, 0.34, 0.43, 0.54, 0.7, 1.0],
    [0.015, 0.019, 0.024, 0.03, 0.037, 0.046, 0.058, 0.072, 0.09, 0.112, 0.14, 0.175, 0.22, 0.27, 0.34, 0.43, 0.54, 0.69, 0.9, 1.2, 1.7],
    [0.009, 0.011, 0.014, 0.018, 0.022, 0.028, 0.035, 0.044, 0.055, 0.068, 0.085, 0.106, 0.13, 0.165, 0.2, 0.26, 0.32, 0.4, 0.5, 0.63, 0.8, 1.0, 1.35, 1.9, 2.9],
    [0.02, 0.025, 0.031, 0.039, 0.049, 0.061, 0.076, 0.095, 0.12, 0.15, 0.185, 0.23, 0.29, 0.36, 0.45, 0.57, 0.73, 0.95, 1.3],
    [0.0085, 0.011, 0.0135, 0.017, 0.021, 0.027, 0.033, 0.042, 0.052, 0.065, 0.081, 0.1, 0.126, 0.157, 0.196, 0.245, 0.31, 0.38, 0.48, 0.61, 0.78, 1.0],
    [0.01, 0.0125, 0.016, 0.02, 0.025, 0.031, 0.039, 0.049, 0.061, 0.076, 0.095, 0.12, 0.15, 0.185, 0.23, 0.29, 0.36, 0.45, 0.57, 0.73, 0.92, 1.1],
    [0.012, 0.015, 0.019, 0.024, 0.03, 0.038, 0.048, 0.06, 0.075, 0.094, 0.118, 0.148, 0.185, 0.23, 0.29, 0.36, 0.45, 0.57, 0.74, 0.95, 1.2],
    [0.0095, 0.012, 0.015, 0.019, 0.024, 0.03, 0.037, 0.047, 0.058, 0.073, 0.091, 0.114, 0.143, 0.18, 0.225, 0.28, 0.35, 0.44, 0.56, 0.72, 1.0],
    [0.0085, 0.011, 0.014, 0.017, 0.022, 0.027, 0.034, 0.043, 0.054, 0.067, 0.084, 0.105, 0.13, 0.165, 0.2, 0.26, 0.32, 0.4, 0.51, 0.65, 0.85],
    [0.009, 0.0115, 0.0145, 0.018, 0.023, 0.029, 0.036, 0.045, 0.057, 0.071, 0.089, 0.11, 0.14, 0.175, 0.22, 0.275, 0.345, 0.43, 0.55, 0.75],
    [0.012, 0.015, 0.019, 0.024, 0.03, 0.038, 0.047, 0.059, 0.074, 0.093, 0.116, 0.145, 0.18, 0.23, 0.28, 0.35, 0.44, 0.56, 0.72, 1.0],
    [0.013, 0.016, 0.02, 0.025, 0.032, 0.04, 0.05, 0.063, 0.079, 0.099, 0.124, 0.155, 0.195, 0.245, 0.31, 0.39, 0.49, 0.62, 0.8, 1.05, 1.5, 2.5],
    [0.016, 0.02, 0.025, 0.031, 0.039, 0.049, 0.061, 0.076, 0.095, 0.12, 0.15, 0.19, 0.23, 0.29, 0.37, 0.46, 0.58, 0.74, 0.93, 1.1],
    [0.012, 0.015, 0.019, 0.024, 0.03, 0.037, 0.047, 0.058, 0.073, 0.091, 0.114, 0.143, 0.18, 0.225, 0.28, 0.35, 0.44, 0.56, 0.73, 1.0],
]

AveDeg_levels = [3.418, 3.437, 3.442, 3.449, 3.466, 3.470, 3.474, 3.478, 3.482,
                 3.497, 3.504, 3.509, 3.514, 3.544, 3.589]
AveDeg_y = [
    [0.011, 0.014, 0.018, 0.022, 0.028, 0.035, 0.044, 0.055, 0.068, 0.085, 0.106, 0.13, 0.165, 0.2, 0.26, 0.32, 0.4, 0.5, 0.63, 0.85, 1.5],
    [0.012, 0.015, 0.019, 0.024, 0.03, 0.037, 0.047, 0.058, 0.073, 0.091, 0.114, 0.143, 0.18, 0.225, 0.28, 0.35, 0.44, 0.56, 0.73, 1.0],
    [0.014, 0.018, 0.022, 0.028, 0.035, 0.043, 0.054, 0.067, 0.084, 0.105, 0.13, 0.16, 0.2, 0.25, 0.31, 0.39, 0.49, 0.62, 0.78, 0.95],
    [0.011, 0.014, 0.017, 0.021, 0.027, 0.033, 0.042, 0.052, 0.065, 0.081, 0.1, 0.126, 0.157, 0.196, 0.245, 0.31, 0.38, 0.48, 0.61, 0.8, 1.1],
    [0.013, 0.016, 0.02, 0.025, 0.032, 0.04, 0.05, 0.063, 0.079, 0.099, 0.124, 0.155, 0.195, 0.245, 0.31, 0.39, 0.49, 0.62, 0.8, 1.05, 1.6],
    [0.0085, 0.0105, 0.013, 0.017, 0.021, 0.026, 0.033, 0.041, 0.051, 0.064, 0.08, 0.1, 0.125, 0.155, 0.195, 0.245, 0.3, 0.38, 0.48, 0.6, 0.76, 0.97, 1.3, 1.8, 2.4],
    [0.009, 0.0115, 0.0145, 0.018, 0.023, 0.029, 0.036, 0.045, 0.057, 0.071, 0.089, 0.11, 0.14, 0.175, 0.22, 0.275, 0.345, 0.43, 0.55, 0.7, 0.9, 1.3],
    [0.0095, 0.012, 0.015, 0.019, 0.024, 0.03, 0.038, 0.048, 0.06, 0.075, 0.094, 0.118, 0.148, 0.185, 0.23, 0.29, 0.36, 0.46, 0.58, 0.74, 1.0],
    [0.011, 0.014, 0.0175, 0.022, 0.027, 0.034, 0.043, 0.054, 0.068, 0.085, 0.106, 0.133, 0.166, 0.21, 0.26, 0.33, 0.41, 0.52, 0.66, 0.85, 1.0],
    [0.016, 0.02, 0.025, 0.031, 0.039, 0.049, 0.061, 0.076, 0.095, 0.12, 0.15, 0.19, 0.23, 0.29, 0.37, 0.46, 0.58, 0.74, 0.95, 1.3, 1.9, 2.9],
    [0.01, 0.0125, 0.016, 0.02, 0.025, 0.031, 0.039, 0.049, 0.061, 0.076, 0.095, 0.12, 0.15, 0.185, 0.23, 0.29, 0.36, 0.45, 0.57, 0.73, 0.92, 1.2],
    [0.009, 0.0115, 0.0145, 0.018, 0.023, 0.029, 0.036, 0.045, 0.057, 0.071, 0.089, 0.11, 0.14, 0.175, 0.22, 0.275, 0.345, 0.43, 0.55, 0.7, 0.9],
    [0.0085, 0.011, 0.014, 0.017, 0.022, 0.027, 0.034, 0.043, 0.054, 0.067, 0.084, 0.105, 0.13, 0.165, 0.2, 0.26, 0.32, 0.4, 0.51, 0.65, 0.85],
    [0.013, 0.016, 0.02, 0.025, 0.032, 0.04, 0.05, 0.063, 0.079, 0.099, 0.124, 0.155, 0.195, 0.245, 0.31, 0.39, 0.49, 0.62, 0.8, 1.1, 1.8],
    [0.016, 0.02, 0.025, 0.031, 0.039, 0.049, 0.061, 0.076, 0.095, 0.12, 0.15, 0.19, 0.23, 0.29, 0.37, 0.46, 0.58, 0.74, 0.9, 1.0],
]

# ---------------- panel text ----------------
panel_letters = ["a)", "b)", "c)", "d)", "e)", "f)", "g)", "h)", "i)", "j)", "k)"]
x_titles = ["STT", "Intersections", "AveDegree", "<i>pBuffer</i>", "<i>meanWPrate</i>",
            "<i>stdWPrate</i>", "<i>IRF</i>", "<i>rateUNF</i>", "<i>kGlacial</i>",
            "<i>permDRZ</i>", "<i>permBuffer</i>"]
y_title = "Aquifer to East / Rock to East at 1 Ma"


def expand(levels, ylists):
    xs, ys = [], []
    for lv, yl in zip(levels, ylists):
        xs.extend([lv] * len(yl))
        ys.extend(yl)
    return xs, ys


stt_x, stt_y = expand(STT_levels, STT_y)
int_x, int_y = expand(Inter_levels, Inter_y)
ave_x, ave_y = expand(AveDeg_levels, AveDeg_y)

panel_data = [
    (stt_x, stt_y), (int_x, int_y), (ave_x, ave_y),
    (pBuffer, ratio), (meanWPrate, ratio), (stdWPrate, ratio),
    (IRF, ratio), (rateUNF, ratio), (kGlacial, ratio),
    (permDRZ, ratio), (permBuffer, ratio),
]

sup = lambda e: "10<sup>%d</sup>" % e

x_specs = [
    ("linear", [-2, 2], [-2, 0, 2], ["-2", "0", "2"]),
    ("linear", [60, 100], [60, 80, 100], ["60", "80", "100"]),
    ("linear", [3.4, 3.6], [3.4, 3.5, 3.6], ["3.4", "3.5", "3.6"]),
    ("linear", [0.3, 0.5], [0.3, 0.4, 0.5], ["0.3", "0.4", "0.5"]),
    ("linear", [-5.5, -4.5], [-5.5, -5, -4.5], ["-5.5", "-5", "-4.5"]),
    ("linear", [0.15, 0.4], [0.2, 0.3, 0.4], ["0.2", "0.3", "0.4"]),
    ("linear", [0.036, 0.161], [0.05, 0.1, 0.15], ["0.05", "0.1", "0.15"]),
    ("log", [-8, -6], [1e-8, 1e-7, 1e-6], [sup(-8), sup(-7), sup(-6)]),
    ("log", [-15, -13], [1e-15, 1e-14, 1e-13], [sup(-15), sup(-14), sup(-13)]),
    ("log", [-19.2, -16], [1e-18, 1e-16], [sup(-18), sup(-16)]),
    ("log", [-20, -16.93], [1e-20, 1e-18], [sup(-20), sup(-18)]),
]


def log_minor(lo, hi):
    return [m * 10.0 ** e for e in range(lo, hi + 1) for m in range(2, 10)] + \
           [10.0 ** e for e in range(lo, hi + 1)]


W, H = 1237, 439
OFF = 8          # the page draws the figure 8 px in from the top-left corner
PW = 143
lefts = [69, 269, 469, 669, 871, 1071]
rows = [(8, 166), (233, 392)]
label_y = [195, 423]


def px(x):
    return min(1.0, max(0.0, (x - OFF) / W))


def py(y):
    return min(1.0, max(0.0, 1 - (y - OFF) / H))


FRAME = "#4a4a4a"
GRID = "#dedede"
MINOR = "#d4d4d4"
TXT = "#262626"
tickfont = dict(family="Liberation Sans, Arial, sans-serif", size=13, color=TXT)

fig = go.Figure()
layout = dict(
    width=W, height=H, autosize=False,
    margin=dict(l=0, r=0, t=0, b=0, pad=0, autoexpand=False),
    paper_bgcolor="white", plot_bgcolor="white", showlegend=False,
)
annotations = []

for i, (xd, yd) in enumerate(panel_data):
    r, c = divmod(i, 6)
    n = "" if i == 0 else str(i + 1)
    left = lefts[c]
    top, bot = rows[r]
    xdom = [px(left), px(left + PW)]
    ydom = [py(bot), py(top)]

    fig.add_trace(go.Scatter(
        x=xd, y=yd, mode="markers",
        marker=dict(symbol="circle-open", size=5, color="#858585", line=dict(width=1)),
        xaxis="x" + n, yaxis="y" + n, hoverinfo="skip", cliponaxis=True,
    ))

    typ, rng, tv, tt = x_specs[i]
    xa = dict(
        domain=xdom, anchor="y" + n, type=typ, range=rng, automargin=False,
        tickmode="array", tickvals=tv, ticktext=tt,
        showgrid=True, gridcolor=GRID, gridwidth=1, zeroline=False,
        showline=True, linecolor=FRAME, linewidth=1, mirror="ticks",
        ticks="inside", ticklen=3, tickcolor=FRAME, tickfont=tickfont,
    )
    if typ == "log":
        lo = int(rng[0]) - 1
        hi = int(rng[1]) + 1
        xa["minor"] = dict(tickmode="array", tickvals=log_minor(lo, hi), showgrid=True,
                           gridcolor=MINOR, griddash="dot", gridwidth=1,
                           ticks="inside", ticklen=2, tickcolor=FRAME)
    ya = dict(
        domain=ydom, anchor="x" + n, type="log", range=[-2.08, 0.46], automargin=False,
        tickmode="array", tickvals=[0.01, 1], ticktext=[sup(-2), sup(0)],
        showgrid=True, gridcolor=GRID, gridwidth=1, zeroline=False,
        showline=True, linecolor=FRAME, linewidth=1, mirror="ticks",
        ticks="inside", ticklen=3, tickcolor=FRAME, tickfont=tickfont,
        minor=dict(tickmode="array", tickvals=log_minor(-3, 0), showgrid=True,
                   gridcolor=MINOR, griddash="dot", gridwidth=1,
                   ticks="inside", ticklen=2, tickcolor=FRAME),
    )
    layout["xaxis" + n] = xa
    layout["yaxis" + n] = ya

    annotations.append(dict(
        text=x_titles[i], x=px(left + PW / 2), y=py(label_y[r]),
        xref="paper", yref="paper", showarrow=False, xanchor="center", yanchor="middle",
        font=dict(family="Liberation Serif, Times New Roman, serif", size=19, color=TXT),
    ))
    annotations.append(dict(
        text="<b>%s</b>" % panel_letters[i], x=px(left - 36), y=py(label_y[r] + 1),
        xref="paper", yref="paper", showarrow=False, xanchor="left", yanchor="middle",
        font=dict(family="Liberation Sans, Arial, sans-serif", size=16, color="black"),
    ))

annotations.append(dict(
    text=y_title, x=px(18), y=py(217), xref="paper", yref="paper",
    showarrow=False, textangle=-90, xanchor="center", yanchor="middle",
    font=dict(family="Liberation Sans, Arial, sans-serif", size=18, color="#333333"),
))

layout["annotations"] = annotations
fig.update_layout(**layout)
fig.write_html("out.html", config={"responsive": False})
